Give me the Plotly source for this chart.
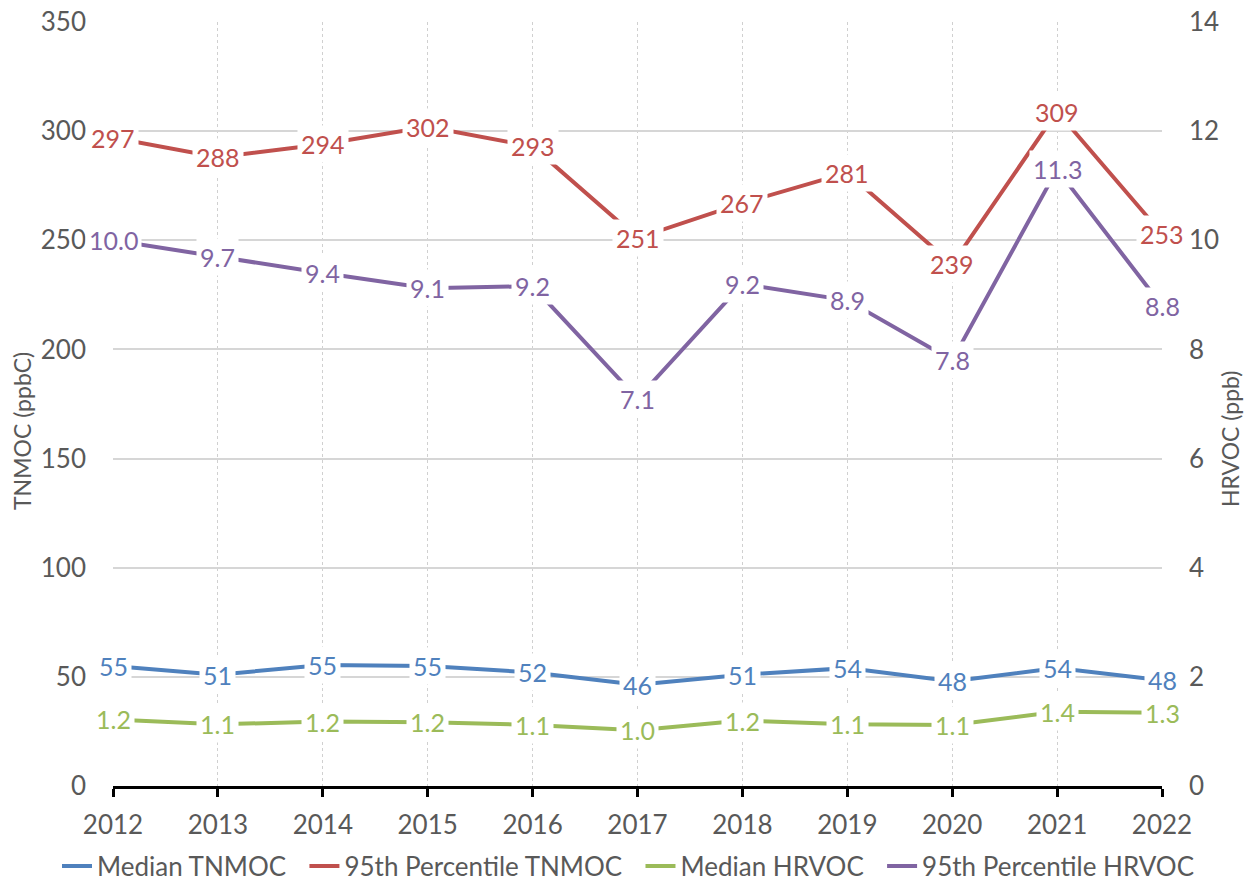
import plotly.graph_objects as go

years = [2012, 2013, 2014, 2015, 2016, 2017, 2018, 2019, 2020, 2021, 2022]
median_tnmoc = [55, 51, 55.4, 55, 52, 46.4, 51, 54, 48, 54, 48.4]
p95_tnmoc = [297, 288, 294, 302, 293, 251, 267, 281, 239, 309, 253]
median_hrvoc = [1.22, 1.13, 1.18, 1.17, 1.12, 1.02, 1.2, 1.13, 1.12, 1.36, 1.34]
p95_hrvoc = [10.0, 9.7, 9.4, 9.12, 9.16, 7.1, 9.2, 8.9, 7.8, 11.3, 8.8]

left_ticks = [0, 50, 100, 150, 200, 250, 300, 350]
right_ticks = [0, 2, 4, 6, 8, 10, 12, 14]

FONT = "Lato"
GRAY = "#595959"
colors = {
    "Median TNMOC": "#4F81BD",
    "95th Percentile TNMOC": "#C0504D",
    "Median HRVOC": "#9BBB59",
    "95th Percentile HRVOC": "#8064A2",
}

series = [
    ("Median TNMOC", median_tnmoc, "y", "{:.0f}"),
    ("95th Percentile TNMOC", p95_tnmoc, "y", "{:.0f}"),
    ("Median HRVOC", median_hrvoc, "y2", "{:.1f}"),
    ("95th Percentile HRVOC", p95_hrvoc, "y2", "{:.1f}"),
]

W, H = 1250, 882
L, R, T, B = 113, 88, 22, 96
PW = W - L - R
PH = H - T - B
NB = "\u00a0\u00a0"

fig = go.Figure()
annotations = []
for name, vals, yax, fmt in series:
    fig.add_trace(go.Scatter(
        x=years, y=vals, name=name + NB, mode="lines",
        line=dict(color=colors[name], width=4),
        yaxis=yax, hoverinfo="skip",
    ))
    for xv, yv in zip(years, vals):
        annotations.append(dict(
            x=xv, y=yv, xref="x", yref=yax, text=fmt.format(yv),
            showarrow=False, bgcolor="white", borderpad=3,
            font=dict(family=FONT, size=25, color=colors[name]),
            xanchor="center", yanchor="middle",
        ))

annotations.append(dict(
    x=-91 / PW, y=(786 - 431) / PH, xref="paper", yref="paper",
    xanchor="center", yanchor="middle",
    text="TNMOC (ppbC)", textangle=-90, showarrow=False,
    font=dict(family=FONT, size=23, color=GRAY),
))
annotations.append(dict(
    x=1 + 68 / PW, y=(786 - 439) / PH, xref="paper", yref="paper",
    xanchor="center", yanchor="middle",
    text="HRVOC (ppb)", textangle=-90, showarrow=False,
    font=dict(family=FONT, size=23, color=GRAY),
))

fig.update_layout(
    width=W, height=H,
    margin=dict(l=L, r=R, t=T, b=B, autoexpand=False),
    paper_bgcolor="white", plot_bgcolor="white",
    font=dict(family=FONT, color=GRAY),
    showlegend=True,
    legend=dict(
        orientation="h", xref="paper", yref="paper",
        x=-56 / PW, xanchor="left", y=(786 - 866) / PH, yanchor="middle",
        font=dict(family=FONT, size=26, color=GRAY),
        itemwidth=30, bgcolor="rgba(0,0,0,0)",
    ),
    xaxis=dict(
        range=[2012, 2022], tickmode="array", tickvals=years,
        ticktext=[str(y) for y in years],
        showgrid=True, gridcolor="#D0D0D0", griddash="dot", gridwidth=1,
        showline=True, linecolor="black", linewidth=3,
        ticks="outside", ticklen=8, tickwidth=3, tickcolor="black",
        tickfont=dict(family=FONT, size=26, color=GRAY),
        ticklabelstandoff=6, automargin=False,
        zeroline=False,
    ),
    yaxis=dict(
        range=[0, 350], tickmode="array", tickvals=left_ticks,
        showgrid=True, gridcolor="#D6D6D6", gridwidth=1.5,
        showline=False, zeroline=False, ticks="",
        tickfont=dict(family=FONT, size=26, color=GRAY),
        ticklabelstandoff=26, automargin=False,
    ),
    yaxis2=dict(
        range=[0, 14], tickmode="array", tickvals=right_ticks,
        overlaying="y", side="right", showgrid=False,
        showline=False, zeroline=False, ticks="",
        tickfont=dict(family=FONT, size=26, color=GRAY),
        ticklabelstandoff=26, automargin=False,
    ),
    annotations=annotations,
)

fig.write_html(
    "out.html",
    config={"displayModeBar": False},
    post_script="document.body.style.margin='0';document.body.style.overflow='hidden';",
)
